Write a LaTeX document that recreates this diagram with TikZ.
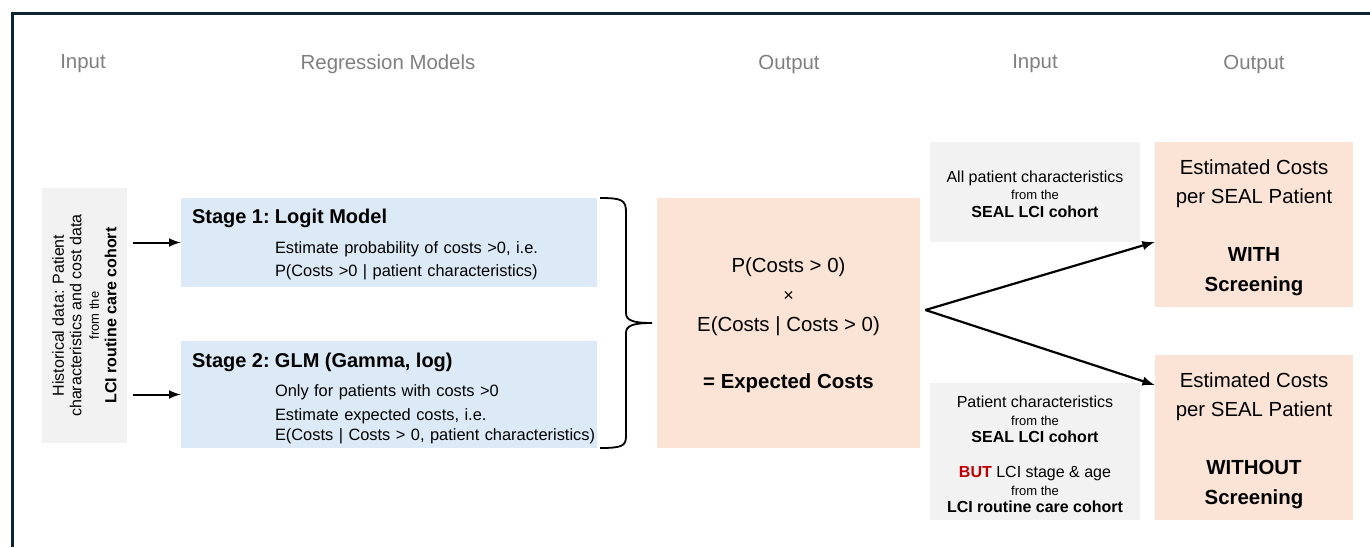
\documentclass[tikz,border=0pt]{standalone}
\usepackage{fontspec}
\setmainfont{Liberation Sans}
\usepackage{tikz}
\usetikzlibrary{arrows}

\definecolor{modelblue}{HTML}{DCE9F6}
\definecolor{costpeach}{HTML}{FBE4D6}
\definecolor{datagrey}{HTML}{F2F2F2}
\definecolor{headgrey}{HTML}{7F7F7F}
\definecolor{framenavy}{HTML}{0C2533}
\definecolor{butred}{HTML}{C00000}

\newcommand{\headfont}{\fontsize{10.2}{12}\selectfont}
\newcommand{\fromfont}{\fontsize{6.5}{7}\selectfont}
% taller first line, pushes a text block down a little
\newcommand{\topgap}[1]{\rule{0pt}{#1}}

\begin{document}
\begin{tikzpicture}[x=0.5pt, y=-0.5pt,
  heading/.style={text=headgrey, font=\headfont},
  databox/.style={fill=datagrey, font=\fontsize{8}{8.75}\selectfont, align=center, inner sep=0pt},
  modelbox/.style={fill=modelblue, font=\fontsize{8.2}{11.5}\selectfont, align=left,
    text width=197pt, inner xsep=5.5pt, inner ysep=0pt},
  costbox/.style={fill=costpeach, font=\fontsize{10.2}{14.75}\selectfont, align=center, inner sep=0pt},
  frameline/.style={draw=framenavy, line width=1.5pt},
  bracket/.style={draw, line width=0.9pt},
]
  \useasboundingbox (0,0) rectangle (1370,547);
  \draw[frameline] (11,13) -- (1370,13);
  \draw[frameline] (12,12.5) -- (12,547);

  % column headings
  \node[heading] (inhead)   at (83,64)   {Input};
  \node[heading] (reghead)  at (388,64)  {Regression Models};
  \node[heading] (outhead)  at (789,64)  {Output};
  \node[heading] (in2head)  at (1035,64) {Input};
  \node[heading] (out2head) at (1254,64) {Output};

  % historical data, set sideways
  \node[databox, rotate=90, minimum width=127.5pt, minimum height=42.5pt] (hist) at (84.5,315.5)
    {Historical data: Patient\\characteristics and cost data\\{\fromfont from the}\\\textbf{LCI routine care cohort}};

  % the two regression stages
  \node[modelbox, minimum height=44.5pt] (stage1) at (389,242.5)
    {{\fontsize{10}{12}\bfseries\topgap{9.5pt}\makebox[41.5pt][l]{Stage 1:}Logit Model}\\[3.5pt]
     \hspace*{41.5pt}Estimate probability of costs >0, i.e.\\
     \hspace*{41.5pt}P(Costs >0 | patient characteristics)};
  \node[modelbox, minimum height=53.5pt] (stage2) at (389,394.5)
    {{\fontsize{10}{12}\bfseries\topgap{11.3pt}\makebox[41.5pt][l]{Stage 2:}GLM (Gamma, log)}\\[3pt]
     \hspace*{41.5pt}Only for patients with costs >0\\[0.5pt]
     \hspace*{41.5pt}Estimate expected costs, i.e.\\[-1.25pt]
     \hspace*{41.5pt}\mbox{E(Costs | Costs > 0, patient characteristics)}};

  % combined two-part result
  \node[costbox, minimum width=131.5pt, minimum height=125pt] (calc) at (788.5,323)
    {\topgap{9.4pt}P(Costs > 0)\\{\fontsize{9}{9}\selectfont ×}\\E(Costs | Costs > 0)\\[13.75pt]\textbf{= Expected Costs}};

  % inputs for the SEAL cohort
  \node[databox, minimum width=105pt, minimum height=50pt] (seal) at (1035,192)
    {\topgap{7.8pt}All patient characteristics\\{\fromfont from the}\\\textbf{SEAL LCI cohort}};
  \node[databox, minimum width=105pt, minimum height=68.5pt] (sealmix) at (1035,451.5)
    {\topgap{8.8pt}Patient characteristics\\{\fromfont from the}\\\textbf{SEAL LCI cohort}\\[8.75pt]
     \textcolor{butred}{\textbf{BUT}} LCI stage \& age\\{\fromfont from the}\\\textbf{LCI routine care cohort}};

  % estimated costs with / without screening
  \node[costbox, minimum width=99pt, minimum height=82.5pt] (with) at (1254,224.5)
    {\topgap{10.4pt}Estimated Costs\\per SEAL Patient\\[14.25pt]\textbf{WITH}\\\textbf{Screening}};
  \node[costbox, minimum width=99pt, minimum height=82.5pt] (without) at (1254,437.5)
    {\topgap{10.4pt}Estimated Costs\\per SEAL Patient\\[14.25pt]\textbf{WITHOUT}\\\textbf{Screening}};

  % brace joining both stages
  \draw[bracket] (600,198) .. controls (622,198) and (626,200) .. (626,212) -- (626,313)
    .. controls (626,320) and (632,323) .. (652,323)
    .. controls (632,323) and (626,326) .. (626,333) -- (626,436)
    .. controls (626,446) and (622,448) .. (600,448);

  \coordinate (fork) at ([xshift=2.5pt, yshift=6.5pt]calc.east);

  \path[-latex, line width=1pt, shorten <=3pt]
  (stage1.west -| hist.south) edge (stage1.west)
  (stage2.west -| hist.south) edge (stage2.west);
  \path[-latex, line width=1.1pt]
  (fork) edge ([yshift=-8.75pt]with.west)
  (fork) edge ([yshift=26.25pt]without.west);
\end{tikzpicture}
\end{document}
